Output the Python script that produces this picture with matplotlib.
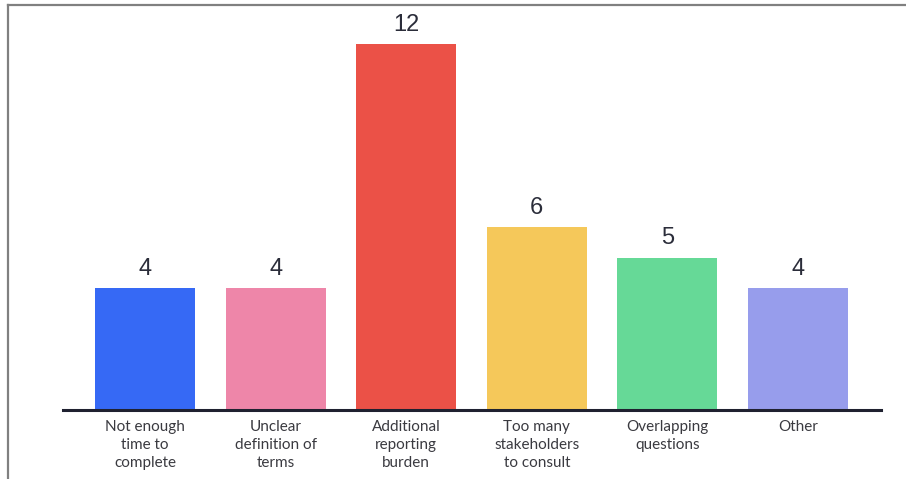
import matplotlib
matplotlib.use("Agg")
import matplotlib.pyplot as plt
from matplotlib.lines import Line2D


# ---------- dados ----------
categories = [
    "Not enough\ntime to\ncomplete",
    "Unclear\ndefinition of\nterms",
    "Additional\nreporting\nburden",
    "Too many\nstakeholders\nto consult",
    "Overlapping\nquestions",
    "Other",
]
counts = [4, 4, 12, 6, 5, 4]
colors = ["#3669F5", "#EE86A9", "#EB5147", "#F5C85A", "#66D997", "#979DEC"]


W, H = 906, 479
fig = plt.figure(figsize=(W / 100, H / 100), dpi=100)
fig.patch.set_facecolor("white")

# eixo posicionado em pixels
left, right, base = 63, 881, 410
ax = fig.add_axes([left / W, (H - base) / H, (right - left) / W, base / H])

x = list(range(len(counts)))
ax.bar(x, counts, width=0.766, color=colors, edgecolor="none", zorder=2)

ax.set_xlim(-0.628, 5.636)
ax.set_ylim(0, 410 / 30.5)

for xi, v in zip(x, counts):
    ax.annotate(
        str(v), (xi, v), xytext=(0, 6), textcoords="offset points",
        ha="center", va="bottom", fontsize=17, color="#2b2d3a",
        family="Liberation Sans",
    )

ax.set_xticks(x)
ax.set_xticklabels(categories, fontsize=11, color="#3a3a40",
                   family="Lato", linespacing=1.34)
ax.tick_params(axis="x", length=0, pad=7.5)
ax.set_yticks([])

for s in ["top", "right", "left"]:
    ax.spines[s].set_visible(False)
ax.spines["bottom"].set_color("#1f2130")
ax.spines["bottom"].set_linewidth(2.2)
ax.patch.set_alpha(0)

# moldura cinza do recorte (topo e esquerda)
fig.add_artist(Line2D([7.5 / W, 1], [1 - 4.5 / H, 1 - 4.5 / H],
                      transform=fig.transFigure, color="#808080", lw=1.6))
fig.add_artist(Line2D([7.5 / W, 7.5 / W], [0, 1 - 4.5 / H],
                      transform=fig.transFigure, color="#808080", lw=1.6))

fig.savefig("out.png", dpi=100)
